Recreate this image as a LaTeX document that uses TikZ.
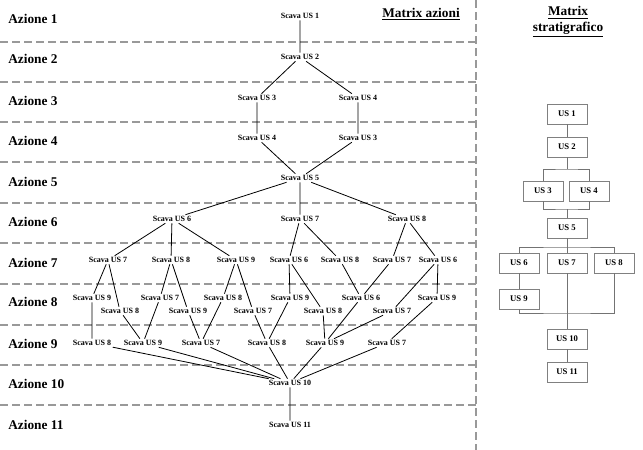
\documentclass[tikz,border=0pt]{standalone}
\usepackage{fontspec}
\setmainfont{Liberation Serif}
\begin{document}
\begin{tikzpicture}[x=0.75pt,y=-0.75pt,
  s/.style={font=\bfseries\fontsize{6}{7}\selectfont,inner sep=1pt},
  az/.style={font=\bfseries\fontsize{10}{12}\selectfont,anchor=west,inner sep=0pt},
  dl/.style={gray!80,line width=1.4pt,dash pattern=on 6pt off 3pt},
  bx/.style={draw=gray,font=\bfseries\fontsize{6.5}{8}\selectfont,minimum width=30pt,minimum height=15pt,inner sep=0pt},
  gl/.style={gray!90!black,line width=0.6pt},
  e/.style={line width=0.6pt}]
\useasboundingbox (0,0) rectangle (643,450);
% dashed grid
\foreach \y in {42,82,122,162,203,243,284,325,365,405} \draw[dl] (0,\y) -- (476,\y);
\draw[dl] (476,0) -- (476,450);
% headers
\node[az,anchor=center] (ma) at (421,14) {\underline{Matrix azioni}};
\node[az,anchor=center,align=center] (ms) at (568,22) {\underline{Matrix}\\\underline{stratigrafico}};
% azione labels
\foreach \i/\y in {1/19,2/59,3/101,4/141,5/182,6/222,7/263,8/302,9/344,10/384,11/425}
  \node[az] (a\i) at (8,\y) {Azione \i};
% tree nodes
\node[s] (r1) at (300,16) {Scava US 1};
\node[s] (r2) at (300,57) {Scava US 2};
\node[s] (r3a) at (257,98) {Scava US 3};
\node[s] (r3b) at (358,98) {Scava US 4};
\node[s] (r4a) at (257,138) {Scava US 4};
\node[s] (r4b) at (358,138) {Scava US 3};
\node[s] (r5) at (300,178) {Scava US 5};
\node[s] (r6a) at (172,219) {Scava US 6};
\node[s] (r6b) at (300,219) {Scava US 7};
\node[s] (r6c) at (407,219) {Scava US 8};
\node[s] (r7a) at (108,260) {Scava US 7};
\node[s] (r7b) at (171,260) {Scava US 8};
\node[s] (r7c) at (236,260) {Scava US 9};
\node[s] (r7d) at (289,260) {Scava US 6};
\node[s] (r7e) at (340,260) {Scava US 8};
\node[s] (r7f) at (392,260) {Scava US 7};
\node[s] (r7g) at (438,260) {Scava US 6};
\node[s] (u1) at (92,298) {Scava US 9};
\node[s] (u2) at (160,298) {Scava US 7};
\node[s] (u3) at (223,298) {Scava US 8};
\node[s] (u4) at (290,298) {Scava US 9};
\node[s] (u5) at (361,298) {Scava US 6};
\node[s] (u6) at (437,298) {Scava US 9};
\node[s] (l1) at (120,311) {Scava US 8};
\node[s] (l2) at (188,311) {Scava US 9};
\node[s] (l3) at (253,311) {Scava US 7};
\node[s] (l4) at (323,311) {Scava US 8};
\node[s] (l5) at (392,311) {Scava US 7};
\node[s] (n1) at (92,343) {Scava US 8};
\node[s] (n2) at (143,343) {Scava US 9};
\node[s] (n3) at (201,343) {Scava US 7};
\node[s] (n4) at (267,343) {Scava US 8};
\node[s] (n5) at (325,343) {Scava US 9};
\node[s] (n6) at (387,343) {Scava US 7};
\node[s] (r10) at (290,383) {Scava US 10};
\node[s] (r11) at (290,425) {Scava US 11};
% tree edges
\draw[e] (r1)--(r2) (r2)--(r3a) (r2)--(r3b) (r3a)--(r4a) (r3b)--(r4b)
  (r4a)--(r5) (r4b)--(r5) (r5)--(r6a) (r5)--(r6b) (r5)--(r6c)
  (r6a)--(r7a) (r6a)--(r7b) (r6a)--(r7c) (r6b)--(r7d) (r6b)--(r7e)
  (r6c)--(r7f) (r6c)--(r7g)
  (r7a)--(u1) (r7a)--(l1) (r7b)--(u2) (r7b)--(l2) (r7c)--(u3) (r7c)--(l3)
  (r7d)--(u4) (r7d)--(l4) (r7e)--(u5) (r7f)--(u5) (r7g)--(l5) (r7g)--(u6)
  (u1)--(n1) (l1)--(n2) (u2)--(n2) (l2)--(n3) (u3)--(n3) (l3)--(n4) (u4)--(n4)
  (l4)--(n5) (u5)--(n5) (l5)--(n5) (u6)--(n6)
  (n1)--(r10) (n2)--(r10) (n3)--(r10) (n4)--(r10) (n5)--(r10) (n6)--(r10)
  (r10)--(r11);
% stratigraphic matrix
\node[bx] (b1) at (567,114) {US 1};
\node[bx] (b2) at (567,147) {US 2};
\node[bx] (b3) at (543,191) {US 3};
\node[bx] (b4) at (589,191) {US 4};
\node[bx] (b5) at (567,228) {US 5};
\node[bx] (b6) at (519,263) {US 6};
\node[bx] (b7) at (567,263) {US 7};
\node[bx] (b8) at (614,263) {US 8};
\node[bx] (b9) at (519,299) {US 9};
\node[bx] (b10) at (567,339) {US 10};
\node[bx] (b11) at (567,372) {US 11};
\draw[gl] (b1)--(b2);
\draw[gl] (b2.south) -- (567,169);
\draw[gl] (b3.north) |- (567,169) -| (b4.north);
\draw[gl] (b3.south) |- (567,209) -| (b4.south);
\draw[gl] (567,209) -- (b5.north);
\draw[gl] (b5.south) -- (567,247);
\draw[gl] (b6.north) |- (567,247) -| (b8.north);
\draw[gl] (567,247) -- (b7.north);
\draw[gl] (b6)--(b9);
\draw[gl] (b9.south) |- (567,313) -| (b8.south);
\draw[gl] (b7.south) -- (b10.north);
\draw[gl] (b10)--(b11);
\end{tikzpicture}
\end{document}
